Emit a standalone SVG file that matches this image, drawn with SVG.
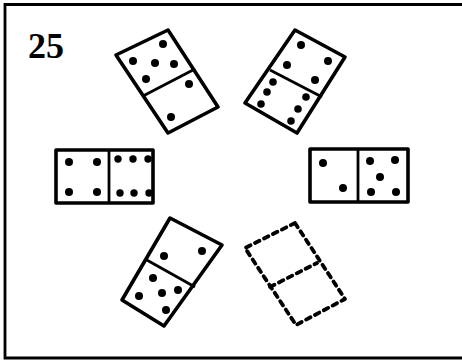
<svg xmlns="http://www.w3.org/2000/svg" width="462" height="361" viewBox="0 0 462 361">
<style>
.frame{fill:none;stroke:#000;stroke-width:2.8}
.dom{fill:#fff;stroke:#000;stroke-width:3.6;stroke-linejoin:round}
.div{fill:none;stroke:#000;stroke-width:2.8}
.dash{fill:none;stroke:#000;stroke-width:3.8;stroke-dasharray:5 5;stroke-linecap:round;stroke-linejoin:round}
.pip{fill:#000}
.num{font-family:"Liberation Serif",serif;font-weight:bold;font-size:36px;fill:#000}
</style>
<rect width="462" height="361" fill="#fff"/>
<path class="frame" d="M462,4.5 H5 V358 H462"/>
<text class="num" x="28" y="58">25</text>
<g id="domino-top-left">
<polygon class="dom" points="116,55 168,30 218,107 168,133"/>
<line class="div" x1="143" y1="96" x2="193" y2="70"/>
<circle class="pip" cx="133" cy="61" r="4"/><circle class="pip" cx="155" cy="63" r="4"/><circle class="pip" cx="174" cy="64" r="4"/><circle class="pip" cx="163" cy="44" r="4"/><circle class="pip" cx="146" cy="79" r="4"/>
<circle class="pip" cx="189" cy="84" r="4"/><circle class="pip" cx="171" cy="117" r="4"/>
</g>
<g id="domino-top-right">
<polygon class="dom" points="295,30 345,57 297,133 245,103"/>
<line class="div" x1="270" y1="70" x2="322" y2="97"/>
<circle class="pip" cx="301" cy="45" r="4"/><circle class="pip" cx="328" cy="61" r="4"/><circle class="pip" cx="287" cy="65" r="4"/><circle class="pip" cx="315" cy="80" r="4"/>
<circle class="pip" cx="273" cy="82" r="3.8"/><circle class="pip" cx="267" cy="92" r="3.8"/><circle class="pip" cx="261" cy="104" r="3.8"/><circle class="pip" cx="306" cy="97" r="3.8"/><circle class="pip" cx="298" cy="109" r="3.8"/><circle class="pip" cx="291" cy="121" r="3.8"/>
</g>
<g id="domino-mid-left">
<rect class="dom" x="56" y="150" width="97" height="53"/>
<line class="div" x1="109" y1="150" x2="109" y2="203"/>
<circle class="pip" cx="69" cy="162" r="4"/><circle class="pip" cx="97" cy="162" r="4"/><circle class="pip" cx="69" cy="192" r="4"/><circle class="pip" cx="97" cy="192" r="4"/>
<circle class="pip" cx="118" cy="159" r="3.7"/><circle class="pip" cx="133" cy="159" r="3.7"/><circle class="pip" cx="148" cy="159" r="3.7"/><circle class="pip" cx="120" cy="193" r="3.7"/><circle class="pip" cx="134" cy="193" r="3.7"/><circle class="pip" cx="149" cy="193" r="3.7"/>
</g>
<g id="domino-mid-right">
<rect class="dom" x="310" y="149" width="98" height="53"/>
<line class="div" x1="358" y1="149" x2="358" y2="202"/>
<circle class="pip" cx="323" cy="163" r="4"/><circle class="pip" cx="343" cy="188" r="4"/>
<circle class="pip" cx="370" cy="161" r="4"/><circle class="pip" cx="395" cy="160" r="4"/><circle class="pip" cx="380" cy="177" r="4"/><circle class="pip" cx="371" cy="192" r="4"/><circle class="pip" cx="396" cy="192" r="4"/>
</g>
<g id="domino-bottom-left">
<polygon class="dom" points="170,218 222,245 164,326 122,300"/>
<line class="div" x1="145" y1="259" x2="195" y2="287"/>
<circle class="pip" cx="164" cy="256" r="4"/><circle class="pip" cx="202" cy="251" r="4"/>
<circle class="pip" cx="153" cy="278" r="4"/><circle class="pip" cx="139" cy="296" r="4"/><circle class="pip" cx="162" cy="293" r="4"/><circle class="pip" cx="178" cy="290" r="4"/><circle class="pip" cx="166" cy="310" r="4"/>
</g>
<g id="domino-bottom-right-blank">
<polygon class="dash" points="295,223 345,299 296,325 245,248"/>
<line class="dash" x1="270" y1="287" x2="317" y2="263"/>
</g>
</svg>
